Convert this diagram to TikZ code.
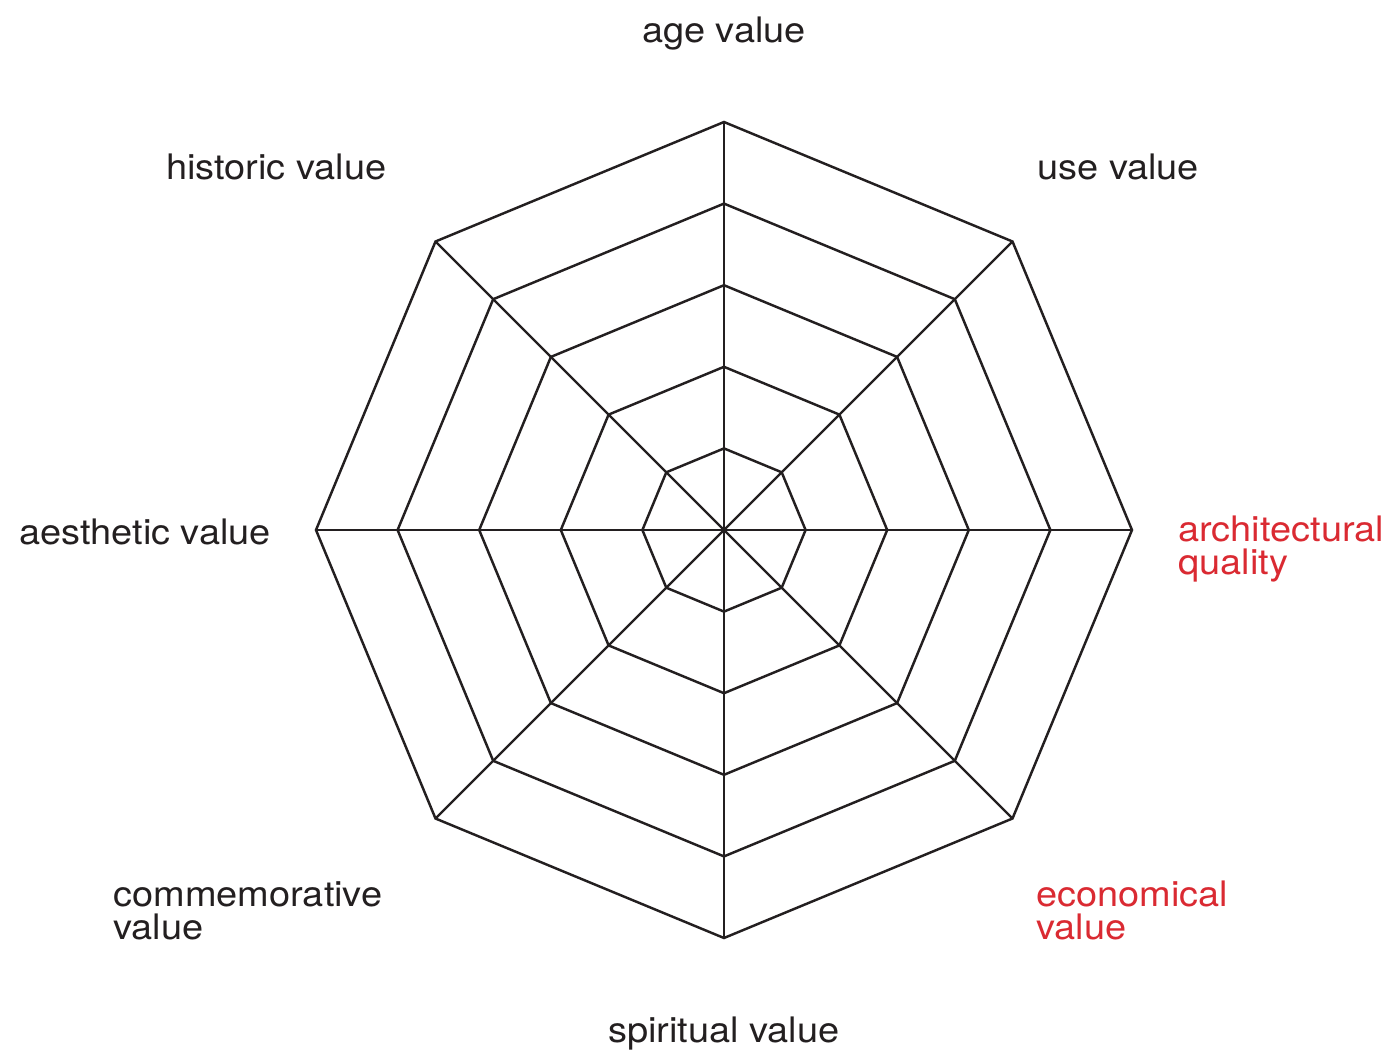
\documentclass[tikz,border=0pt]{standalone}
\usepackage{fontspec}
\setmainfont[FakeStretch=1.08]{TeX Gyre Heros}
\usepackage{xcolor}

\definecolor{inkgray}{HTML}{231F20}
\definecolor{valred}{HTML}{DA2A32}

\begin{document}
\begin{tikzpicture}[x=0.02cm,y=0.02cm,
    web/.style={draw=inkgray, line width=1.4pt, line join=miter},
    axislabel/.style={inkgray, inner sep=0pt, align=left, font=\fontsize{20}{18.5}\selectfont},
    redlabel/.style={axislabel, valred}]

    % Frame of the picture
    \useasboundingbox (-724,-532) rectangle (675,530);

    % Centre and the ends of the eight axes
    \coordinate (c) at (0,0);
    \coordinate (age) at (90:408);
    \coordinate (use) at (45:408);
    \coordinate (arch) at (0:408);
    \coordinate (econ) at (-45:408);
    \coordinate (spirit) at (-90:408);
    \coordinate (comm) at (-135:408);
    \coordinate (aest) at (180:408);
    \coordinate (hist) at (135:408);

    % Rings of the web
    \draw[web] (90:81.6) -- (45:81.6) -- (0:81.6) -- (-45:81.6) -- (-90:81.6) -- (-135:81.6) -- (180:81.6) -- (135:81.6) -- cycle;
    \draw[web] (90:163.2) -- (45:163.2) -- (0:163.2) -- (-45:163.2) -- (-90:163.2) -- (-135:163.2) -- (180:163.2) -- (135:163.2) -- cycle;
    \draw[web] (90:244.8) -- (45:244.8) -- (0:244.8) -- (-45:244.8) -- (-90:244.8) -- (-135:244.8) -- (180:244.8) -- (135:244.8) -- cycle;
    \draw[web] (90:326.4) -- (45:326.4) -- (0:326.4) -- (-45:326.4) -- (-90:326.4) -- (-135:326.4) -- (180:326.4) -- (135:326.4) -- cycle;
    \draw[web] (age) -- (use) -- (arch) -- (econ) -- (spirit) -- (comm) -- (aest) -- (hist) -- cycle;

    % Spokes
    \draw[web] (c) -- (age);
    \draw[web] (c) -- (use);
    \draw[web] (c) -- (arch);
    \draw[web] (c) -- (econ);
    \draw[web] (c) -- (spirit);
    \draw[web] (c) -- (comm);
    \draw[web] (c) -- (aest);
    \draw[web] (c) -- (hist);

    % Names of the values (two-line ones sit on their last line)
    \node[axislabel, anchor=base] (agelbl) at (0,487) {age value};
    \node[axislabel, anchor=base west] (uselbl) at (313,350) {use value};
    \node[axislabel, anchor=base west] (histlbl) at (-558,350) {historic value};
    \node[axislabel, anchor=base west] (aestlbl) at (-705,-14) {aesthetic value};
    \node[redlabel, anchor=base west] (archlbl) at (454,-44) {architectural\\quality};
    \node[axislabel, anchor=base west] (commlbl) at (-611,-409) {commemorative\\value};
    \node[redlabel, anchor=base west] (econlbl) at (312,-409) {economical\\value};
    \node[axislabel, anchor=base] (spiritlbl) at (0,-512) {spiritual value};

\end{tikzpicture}
\end{document}
